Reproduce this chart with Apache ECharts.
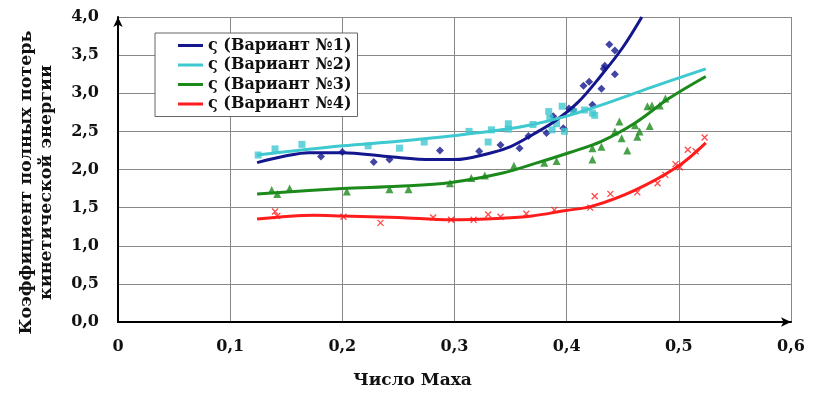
<!DOCTYPE html>
<html lang="ru" style="height: 100%">
<head>
    <meta charset="utf-8">
</head>
<body style="height: 100%; margin: 0; background: #fff">
<div id="container" style="width: 822px; height: 394px"></div>

<script type="text/javascript" src="https://cdn.jsdelivr.net/npm/echarts@6/dist/echarts.min.js"></script>
<script type="text/javascript">
    // сглаженные кривые (аппроксимация)
    var curve1 = [[0.124, 2.09], [0.15, 2.18], [0.17, 2.22], [0.2, 2.22], [0.24, 2.17], [0.28, 2.13], [0.30, 2.13],
        [0.333, 2.22], [0.35, 2.30], [0.37, 2.46], [0.39, 2.64], [0.41, 2.88], [0.43, 3.22], [0.45, 3.6], [0.467, 4.0]];
    var curve2 = [[0.124, 2.19], [0.2, 2.31], [0.25, 2.37], [0.303, 2.45], [0.342, 2.52], [0.37, 2.59], [0.40, 2.70],
        [0.43, 2.84], [0.476, 3.08], [0.524, 3.32]];
    var curve3 = [[0.124, 1.68], [0.2, 1.75], [0.25, 1.78], [0.297, 1.83], [0.342, 1.95], [0.372, 2.08], [0.402, 2.22],
        [0.431, 2.37], [0.461, 2.61], [0.491, 2.93], [0.524, 3.22]];
    var curve4 = [[0.124, 1.35], [0.175, 1.40], [0.2, 1.39], [0.25, 1.37], [0.297, 1.34], [0.342, 1.36], [0.369, 1.39],
        [0.398, 1.46], [0.423, 1.52], [0.461, 1.73], [0.5, 2.05], [0.524, 2.35]];

    // экспериментальные точки
    var points1 = [[0.181, 2.17], [0.2, 2.23], [0.228, 2.1], [0.242, 2.13], [0.287, 2.25], [0.322, 2.24], [0.341, 2.32],
        [0.358, 2.28], [0.366, 2.44], [0.382, 2.48], [0.388, 2.7], [0.397, 2.54], [0.402, 2.8], [0.406, 2.78],
        [0.415, 3.1], [0.42, 3.15], [0.423, 2.85], [0.431, 3.06], [0.433, 3.32], [0.434, 3.36], [0.443, 3.25],
        [0.438, 3.64], [0.443, 3.56]];
    var points2 = [[0.125, 2.19], [0.14, 2.27], [0.164, 2.33], [0.223, 2.31], [0.251, 2.28], [0.273, 2.36], [0.313, 2.5],
        [0.33, 2.36], [0.333, 2.52], [0.348, 2.6], [0.348, 2.53], [0.37, 2.59], [0.384, 2.76], [0.385, 2.67],
        [0.391, 2.6], [0.387, 2.52], [0.396, 2.83], [0.398, 2.5], [0.406, 2.76], [0.416, 2.78], [0.423, 2.74],
        [0.425, 2.71]];
    var points3 = [[0.137, 1.73], [0.142, 1.68], [0.153, 1.75], [0.204, 1.71], [0.242, 1.74], [0.259, 1.74], [0.296, 1.82],
        [0.315, 1.89], [0.327, 1.92], [0.353, 2.05], [0.38, 2.09], [0.391, 2.11], [0.423, 2.28], [0.423, 2.13],
        [0.431, 2.3], [0.443, 2.5], [0.447, 2.63], [0.449, 2.41], [0.454, 2.25], [0.461, 2.58], [0.463, 2.43],
        [0.465, 2.5], [0.474, 2.57], [0.472, 2.83], [0.476, 2.84], [0.483, 2.84], [0.488, 2.93]];
    var points4 = [[0.14, 1.45], [0.142, 1.39], [0.201, 1.38], [0.234, 1.3], [0.281, 1.37], [0.297, 1.34], [0.317, 1.34],
        [0.33, 1.41], [0.341, 1.38], [0.364, 1.42], [0.389, 1.47], [0.421, 1.5], [0.425, 1.65], [0.439, 1.68],
        [0.463, 1.7], [0.481, 1.82], [0.488, 1.93], [0.497, 2.07], [0.501, 2.03], [0.508, 2.26], [0.515, 2.24],
        [0.523, 2.42]];

    var names = ['ς (Вариант №1)', 'ς (Вариант №2)', 'ς (Вариант №3)', 'ς (Вариант №4)'];
    var colors = ['#13168c', '#3ec8cf', '#1b8a1b', '#ff1c1c'];

    var font = '"DejaVu Serif", "Liberation Serif", serif';

    var dom = document.getElementById('container');
    var myChart = echarts.init(dom, null, {renderer: 'canvas'});

    function fmt(v) {
        return v === 0 ? '0' : v.toFixed(1).replace('.', ',');
    }

    function curve(i, data) {
        return {
            name: names[i],
            type: 'line',
            data: data,
            smooth: 0.35,
            symbol: 'none',
            z: 3,
            lineStyle: {color: colors[i], width: 3},
            itemStyle: {color: colors[i]}
        };
    }

    function pts(i, data, symbol, size, hollow) {
        return {
            name: 'pts' + i,
            type: 'scatter',
            data: data,
            symbol: symbol,
            symbolSize: size,
            z: 2,
            itemStyle: hollow ? {color: 'transparent', borderColor: colors[i], borderWidth: 1.3} : {color: colors[i]}
        };
    }

    var option = {
        animation: false,
        grid: {left: 118, right: 31, top: 17, bottom: 67},
        legend: {
            data: names,
            orient: 'vertical',
            left: 155,
            top: 33,
            icon: 'rect',
            padding: [4, 6, 4, 23],
            itemGap: 2.5,
            itemWidth: 25,
            itemHeight: 3,
            backgroundColor: '#fff',
            borderColor: '#666',
            borderWidth: 1,
            textStyle: {fontFamily: font, fontWeight: 'bold', fontSize: 16, color: '#111', lineHeight: 17}
        },
        xAxis: {
            type: 'value',
            min: 0,
            max: 0.6,
            interval: 0.1,
            name: 'Число Маха',
            nameLocation: 'middle',
            nameGap: 50,
            nameTextStyle: {fontFamily: font, fontWeight: 'bold', fontSize: 17, color: '#111', padding: [0, 84, 0, 0]},
            axisLine: {lineStyle: {color: '#000', width: 2}, symbol: ['none', 'arrow'], symbolSize: [7, 10]},
            axisTick: {show: false},
            axisLabel: {formatter: fmt, fontFamily: font, fontWeight: 'bold', fontSize: 16, color: '#111', margin: 17},
            splitLine: {lineStyle: {color: '#888', width: 1}}
        },
        yAxis: {
            type: 'value',
            min: 0,
            max: 4,
            interval: 0.5,
            name: 'Коэффициент полных потерь\nкинетической энергии',
            nameLocation: 'middle',
            nameRotate: 90,
            nameGap: 62,
            nameTextStyle: {fontFamily: font, fontWeight: 'bold', fontSize: 17.5, color: '#111', lineHeight: 20, padding: [0, 26, 0, 0]},
            axisLine: {show: true, lineStyle: {color: '#000', width: 2}, symbol: ['none', 'arrow'], symbolSize: [7, 10]},
            axisTick: {show: false},
            axisLabel: {formatter: function (v) { return v.toFixed(1).replace('.', ','); },
                fontFamily: font, fontWeight: 'bold', fontSize: 16, color: '#111', margin: 19},
            splitLine: {lineStyle: {color: '#888', width: 1}}
        },
        series: [
            pts(0, points1, 'diamond', 8, false),
            pts(1, points2, 'rect', 7, false),
            pts(2, points3, 'triangle', 8, false),
            pts(3, points4, 'path://M0,0L10,10M10,0L0,10', 6, true),
            curve(0, curve1),
            curve(1, curve2),
            curve(2, curve3),
            curve(3, curve4)
        ]
    };

    myChart.setOption(option);
    window.addEventListener('resize', myChart.resize);
</script>
</body>
</html>
